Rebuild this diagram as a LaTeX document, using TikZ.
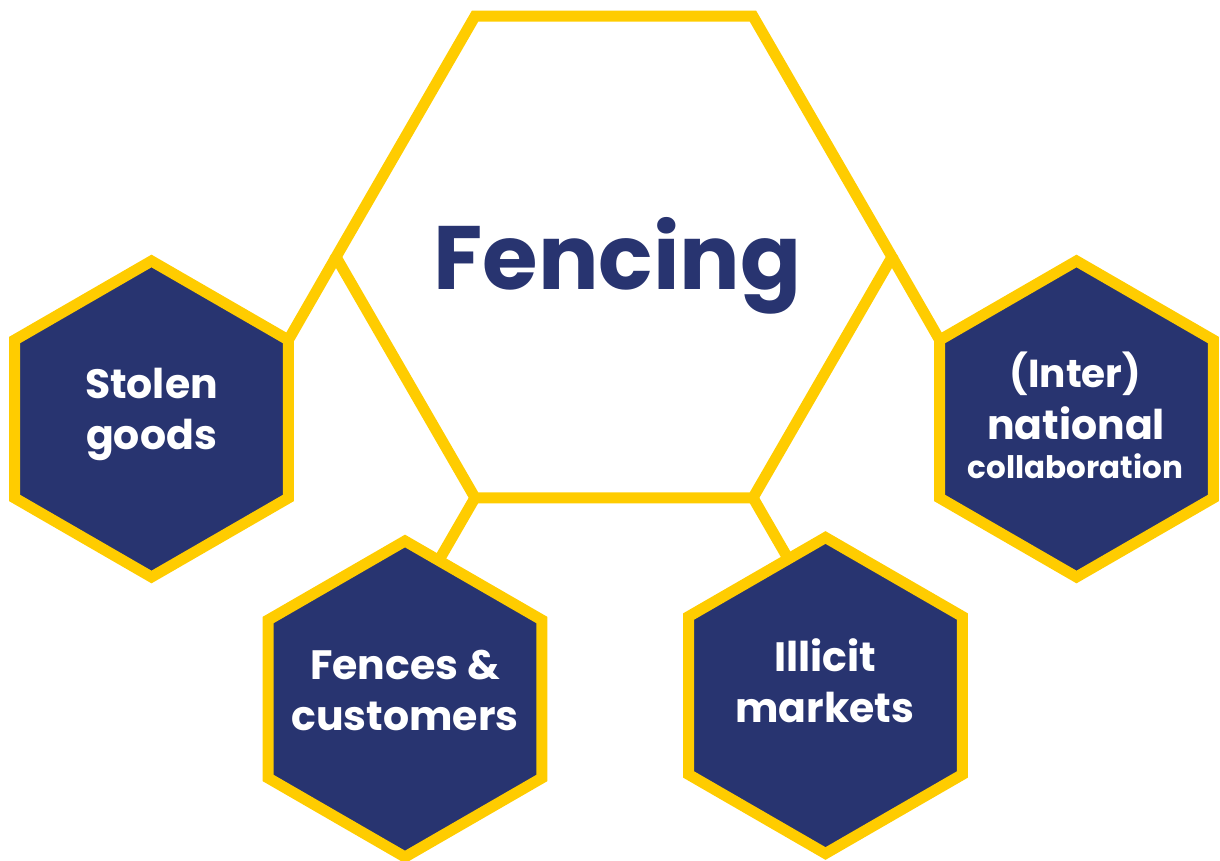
\documentclass[tikz,border=0pt]{standalone}
\usepackage{fontspec}
\setmainfont{Poppins}
\definecolor{hexgold}{RGB}{255,204,0}
\definecolor{hexnavy}{RGB}{40,52,112}
\begin{document}
\begin{tikzpicture}[x=0.5pt,y=0.5pt,
  rim/.style={draw=hexgold,line width=5.5pt,line join=miter},
  cell/.style={rim,fill=hexnavy},
  link/.style={draw=hexgold,line width=5.5pt,shorten >=-12pt},
  title/.style={font=\fontsize{45}{50}\selectfont\bfseries,text=hexnavy,inner sep=0pt},
  label/.style={font=\fontsize{20.5}{25.2}\selectfont\bfseries,text=white,align=center,inner sep=0pt,anchor=base}]
\useasboundingbox (0,0) rectangle (1220,-861);

% centres of the hexagons
\coordinate (big)     at (614,-257);
\coordinate (stolen)  at (151.5,-419);
\coordinate (fences)  at (405,-699);
\coordinate (illicit) at (825.5,-695.5);
\coordinate (inter)   at (1076.5,-419);

% corners used by the connectors
\path (big) +(180:278) coordinate (bigL)
      (big) +(0:278)   coordinate (bigR)
      (big) +(240:278) coordinate (bigBL)
      (big) +(300:278) coordinate (bigBR);
\path (stolen) +(30:158)  coordinate (stolenUR)
      (inter)  +(150:158) coordinate (interUL);
\path (bigBL) +(240:80) coordinate (fencesIn)
      (bigBR) +(300:80) coordinate (illicitIn);

% central flat-topped hexagon
\path[rim] (big) +(0:278) -- +(60:278) -- +(120:278) -- +(180:278)
               -- +(240:278) -- +(300:278) -- cycle;

% connectors
\draw[link] (bigL)  -- (stolenUR);
\draw[link] (bigR)  -- (interUL);
\draw[link] (bigBL) -- (fencesIn);
\draw[link] (bigBR) -- (illicitIn);

% outer pointy-topped hexagons
\foreach \c in {stolen,fences,illicit,inter}{
  \path[cell] (\c) +(90:158) -- +(150:158) -- +(210:158) -- +(270:158)
                 -- +(330:158) -- +(30:158) -- cycle;
}

% texts (base anchor = baseline of the last line)
\node[title,anchor=base] (fencingtxt) at (617.5,-289) {Fencing};
\node[label] (stolentxt)  at (151.5,-449) {Stolen\\goods};
\node[label] (fencestxt)  at (405,-730)   {Fences \&\\customers};
\node[label] (illicittxt) at (825,-722)   {Illicit\\markets};
\node[label,font=\fontsize{19.5}{24}\selectfont\bfseries] (intertxtA) at (1075.5,-387) {(Inter)};
\node[label] (intertxtB) at (1076,-439) {national};
\node[label,font=\fontsize{15.5}{20}\selectfont\bfseries] (intertxtC) at (1075.5,-478) {collaboration};
\end{tikzpicture}
\end{document}
